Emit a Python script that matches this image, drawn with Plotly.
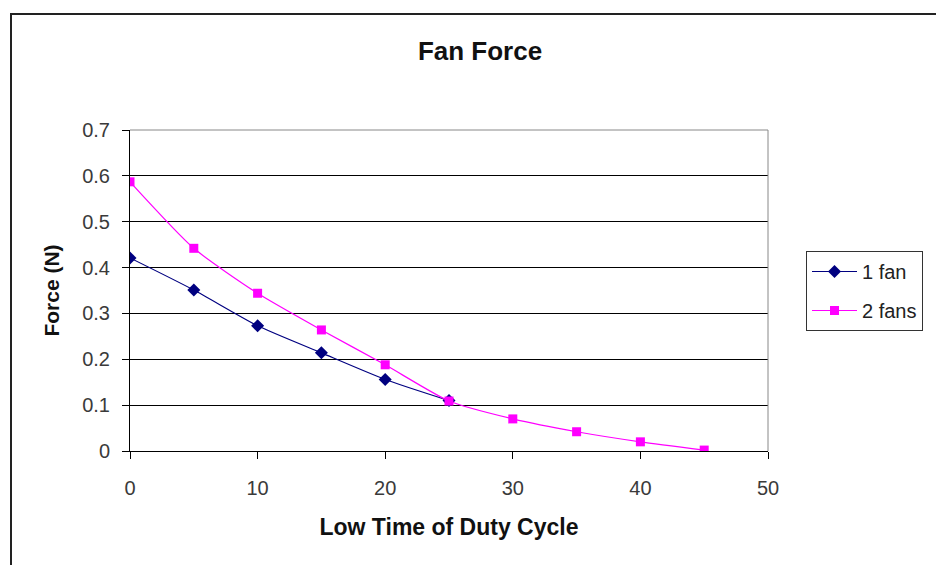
import plotly.graph_objects as go

x_one = [0, 5, 10, 15, 20, 25]
y_one = [0.421, 0.351, 0.273, 0.214, 0.156, 0.11]
x_two = [0, 5, 10, 15, 20, 25, 30, 35, 40, 45]
y_two = [0.587, 0.442, 0.344, 0.264, 0.188, 0.109, 0.07, 0.042, 0.02, 0.002]
names = ["1 fan", "2 fans"]

FONT = "Liberation Sans, Arial, sans-serif"

fig = go.Figure()
fig.add_trace(go.Scatter(x=x_one, y=y_one, name=names[0], mode="lines+markers",
                         legendgroup="a",
                         line=dict(color="#000080", width=1.2, shape="spline", smoothing=0.6),
                         marker=dict(symbol="diamond", size=10, color="#000080")))
fig.add_trace(go.Scatter(x=x_two, y=y_two, name=names[1], mode="lines+markers",
                         legendgroup="b",
                         line=dict(color="#FF00FF", width=1.2, shape="spline", smoothing=0.6),
                         marker=dict(symbol="square", size=9, color="#FF00FF")))

L, R, T, B = 130, 768, 130, 451
W, H = 936, 565
pw, ph = R - L, B - T

def px(xp):
    return (xp - L) / pw

def py(yp):
    return (B - yp) / ph

fig.update_layout(
    width=W, height=H,
    margin=dict(l=L, r=W - R, t=T, b=H - B, autoexpand=False),
    paper_bgcolor="white", plot_bgcolor="white",
    font=dict(family=FONT, size=20, color="#3a3a3a"),
    title=dict(text="<b>Fan Force</b>", x=px(480), xref="paper", xanchor="center",
               y=1 - 51 / H, yanchor="middle", font=dict(size=26, color="#111111")),
    xaxis=dict(range=[0, 50], dtick=10, showgrid=False, showline=True, linecolor="black",
               linewidth=1, ticks="outside", ticklen=7, tickcolor="black",
               tickfont=dict(size=20, color="#3a3a3a"), ticklabelstandoff=12,
               title=dict(text="<b>Low Time of Duty Cycle</b>", font=dict(size=23, color="#111111"),
                          standoff=20),
               zeroline=False, mirror=False),
    yaxis=dict(range=[0, 0.7], dtick=0.1, showgrid=True, gridcolor="black", gridwidth=1,
               showline=True, linecolor="black", linewidth=1, ticks="outside", ticklen=7,
               tickcolor="black", tickformat=".1~f",
               tickfont=dict(size=20, color="#3a3a3a"), ticklabelstandoff=8,
               title=dict(text="<b>Force (N)</b>", font=dict(size=21, color="#111111"),
                          standoff=16),
               zeroline=False),
    showlegend=True,
    legend=dict(x=px(806), y=py(251), xanchor="left", yanchor="top",
                bgcolor="white", bordercolor="#333333", borderwidth=1,
                font=dict(size=20, color="#222222"), tracegroupgap=10,
                traceorder="grouped", itemwidth=45),
    shapes=[
        dict(type="line", xref="paper", yref="paper", x0=0, x1=1, y0=1, y1=1,
             line=dict(color="#888888", width=1)),
        dict(type="line", xref="paper", yref="paper", x0=1, x1=1, y0=0, y1=1,
             line=dict(color="#888888", width=1)),
        dict(type="rect", xref="paper", yref="paper", x0=px(11), x1=px(945),
             y0=py(580), y1=py(14), line=dict(color="#222222", width=2),
             fillcolor="rgba(0,0,0,0)", layer="below"),
    ],
)

fig.write_html("out.html")
